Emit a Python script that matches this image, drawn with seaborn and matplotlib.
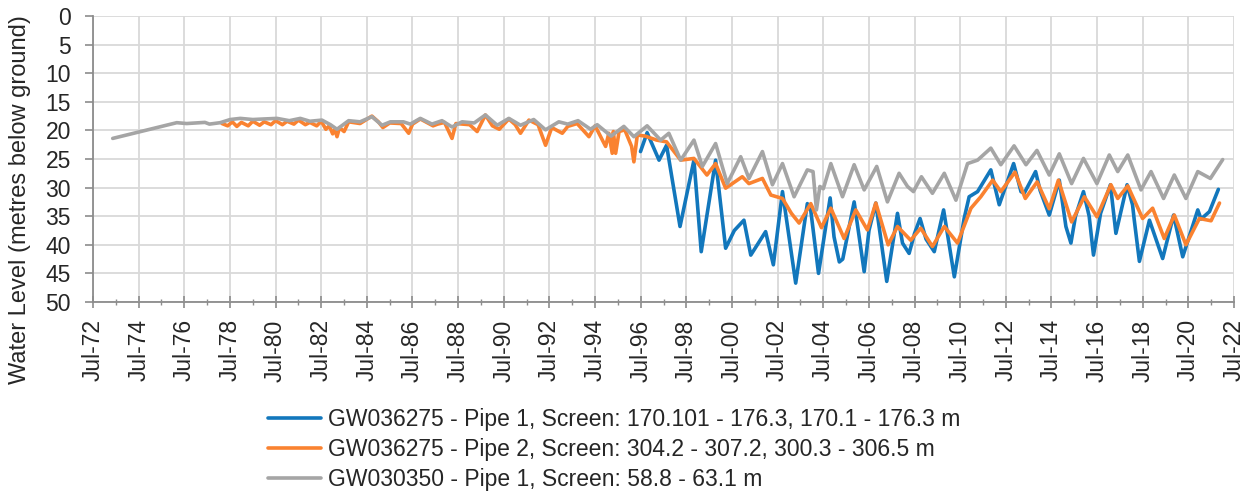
import numpy as np
import pandas as pd
import matplotlib
matplotlib.use("Agg")
import matplotlib.pyplot as plt
import matplotlib.dates as mdates
import seaborn as sns

# Series values (decimal year, metres below ground)
PIPE1_LABEL = "GW036275 - Pipe 1, Screen: 170.101 - 176.3, 170.1 - 176.3 m"
PIPE2_LABEL = "GW036275 - Pipe 2, Screen: 304.2 - 307.2, 300.3 - 306.5 m"
GW0303_LABEL = "GW030350 - Pipe 1, Screen: 58.8 - 63.1 m"

pipe1_years = [
    1996.49, 1996.78, 1997.30, 1997.63, 1998.22, 1998.83, 1999.15, 1999.78,
    2000.22, 2000.60, 2001.02, 2001.32, 2001.97, 2002.31, 2002.71, 2003.29,
    2003.80, 2003.95, 2004.29, 2004.80, 2004.97, 2005.20, 2005.35, 2005.85,
    2006.29, 2006.50, 2006.80, 2007.28, 2007.75, 2007.97, 2008.26, 2008.50,
    2008.74, 2009.00, 2009.36, 2009.77, 2010.24, 2010.67, 2010.89, 2011.26,
    2011.84, 2012.21, 2012.84, 2013.16, 2013.30, 2013.80, 2014.00, 2014.40,
    2014.84, 2015.13, 2015.35, 2015.55, 2015.90, 2016.15, 2016.34, 2016.65,
    2017.08, 2017.32, 2017.81, 2018.05, 2018.12, 2018.35, 2018.79, 2019.37,
    2019.85, 2020.25, 2020.91, 2021.05, 2021.42, 2021.81,
]
pipe1_levels = [
    23.7, 20.4, 25.2, 22.6, 36.8, 25.2, 41.2, 25.2,
    40.6, 37.5, 35.7, 41.8, 37.7, 43.5, 30.7, 46.7,
    32.8, 34.0, 45.0, 31.8, 38.6, 43.0, 42.5, 32.5,
    44.7, 37.5, 32.7, 46.4, 34.5, 39.7, 41.5, 38.0,
    35.4, 39.0, 41.2, 33.9, 45.6, 35.4, 31.6, 30.7,
    26.9, 33.0, 25.8, 30.7, 31.0, 27.2, 30.5, 34.8,
    28.7, 36.8, 39.7, 35.0, 30.7, 35.0, 41.8, 34.5,
    29.5, 38.0, 29.5, 33.0, 35.5, 42.9, 35.7, 42.4,
    34.8, 42.1, 33.9, 35.5, 34.2, 30.3,
]

pipe2_years = [
    1978.15, 1978.40, 1978.60, 1978.80, 1979.00, 1979.30, 1979.50, 1979.80,
    1980.00, 1980.30, 1980.50, 1980.80, 1981.00, 1981.30, 1981.50, 1981.80,
    1982.00, 1982.30, 1982.50, 1982.70, 1982.85, 1983.00, 1983.10, 1983.19,
    1983.30, 1983.50, 1983.70, 1984.20, 1984.72, 1985.00, 1985.20, 1985.50,
    1986.00, 1986.33, 1986.50, 1986.84, 1987.40, 1987.60, 1987.90, 1988.23,
    1988.40, 1989.00, 1989.33, 1989.69, 1990.00, 1990.30, 1990.72, 1991.00,
    1991.23, 1991.60, 1992.00, 1992.33, 1992.60, 1993.06, 1993.30, 1993.71,
    1994.23, 1994.50, 1994.96, 1995.10, 1995.25, 1995.30, 1995.40, 1995.55,
    1995.80, 1996.10, 1996.20, 1996.35, 1996.70, 1997.20, 1997.63, 1998.25,
    1998.83, 1999.40, 1999.78, 2000.22, 2000.95, 2001.24, 2001.83, 2002.20,
    2002.71, 2003.10, 2003.44, 2003.95, 2004.42, 2004.83, 2005.41, 2005.92,
    2006.43, 2006.80, 2007.34, 2007.75, 2008.33, 2008.77, 2009.28, 2009.80,
    2010.38, 2010.97, 2011.40, 2011.92, 2012.28, 2012.90, 2013.35, 2013.87,
    2014.40, 2014.80, 2015.38, 2015.94, 2016.49, 2017.10, 2017.40, 2017.84,
    2018.49, 2018.93, 2019.44, 2019.88, 2020.39, 2020.98, 2021.49, 2021.86,
]
pipe2_levels = [
    18.8, 19.2, 18.5, 19.3, 18.6, 19.2, 18.4, 19.1,
    18.5, 19.0, 18.3, 19.0, 18.4, 18.9, 18.2, 19.0,
    18.6, 19.2, 18.4, 19.8, 19.2, 20.6, 19.8, 21.1,
    19.5, 20.2, 18.5, 18.8, 17.5, 18.5, 19.5, 18.7,
    18.8, 20.5, 18.9, 18.0, 19.2, 18.9, 18.6, 21.4,
    18.8, 19.0, 20.2, 17.3, 19.2, 19.8, 18.0, 19.0,
    20.5, 18.2, 19.0, 22.6, 19.5, 20.5, 19.3, 18.8,
    21.1, 19.2, 22.8, 20.5, 24.0, 20.2, 24.0, 20.2,
    19.9, 22.8, 25.5, 20.8, 21.0, 21.7, 22.0, 25.2,
    24.9, 27.8, 25.8, 30.1, 28.1, 29.3, 28.4, 31.3,
    31.9, 34.5, 36.2, 32.8, 37.0, 33.6, 38.9, 33.9,
    37.4, 32.7, 40.0, 36.8, 39.2, 37.1, 40.3, 36.8,
    39.7, 33.6, 31.6, 28.7, 30.7, 27.3, 31.9, 29.0,
    33.7, 28.7, 36.0, 31.6, 35.1, 29.5, 31.9, 29.7,
    35.4, 33.6, 38.9, 34.8, 40.0, 35.4, 35.8, 32.7,
]

gw0303_years = [
    1973.36, 1976.17, 1976.60, 1977.00, 1977.40, 1977.60, 1978.07, 1978.51,
    1978.95, 1979.50, 1980.00, 1980.56, 1981.10, 1981.58, 1982.00, 1982.53,
    1982.90, 1983.19, 1983.70, 1984.20, 1984.72, 1985.16, 1985.53, 1986.10,
    1986.40, 1986.84, 1987.35, 1987.79, 1988.23, 1988.67, 1989.20, 1989.69,
    1990.21, 1990.72, 1991.23, 1991.81, 1992.33, 1992.91, 1993.30, 1993.75,
    1994.30, 1994.59, 1995.20, 1995.76, 1996.20, 1996.78, 1997.37, 1997.73,
    1998.25, 1998.83, 1999.20, 1999.78, 2000.29, 2000.88, 2001.24, 2001.83,
    2002.27, 2002.71, 2003.22, 2003.80, 2004.05, 2004.20, 2004.35, 2004.50,
    2004.83, 2005.34, 2005.85, 2006.29, 2006.84, 2007.31, 2007.82, 2008.19,
    2008.45, 2008.80, 2009.28, 2009.80, 2010.31, 2010.82, 2011.26, 2011.84,
    2012.28, 2012.86, 2013.38, 2013.86, 2014.40, 2014.84, 2015.38, 2015.90,
    2016.49, 2017.03, 2017.40, 2017.84, 2018.42, 2018.86, 2019.41, 2019.88,
    2020.39, 2020.91, 2021.46, 2022.00,
]
gw0303_levels = [
    21.4, 18.65, 18.8, 18.7, 18.6, 18.9, 18.65, 18.1,
    17.9, 18.1, 18.0, 17.9, 18.3, 17.9, 18.4, 18.2,
    19.0, 19.8, 18.3, 18.5, 17.6, 19.1, 18.5, 18.5,
    18.9, 17.9, 18.9, 18.3, 19.4, 18.5, 18.7, 17.3,
    19.1, 17.9, 19.1, 18.1, 19.9, 18.5, 18.9, 18.3,
    19.8, 19.0, 21.0, 19.3, 21.1, 19.2, 21.7, 20.5,
    25.2, 21.7, 26.3, 22.3, 29.3, 24.6, 28.4, 23.7,
    29.5, 25.8, 31.6, 26.9, 27.2, 33.9, 29.8, 30.2,
    25.8, 31.6, 26.0, 30.4, 26.3, 32.5, 27.5, 29.8,
    30.7, 28.1, 31.0, 27.5, 32.2, 25.8, 25.2, 23.1,
    26.0, 22.7, 26.0, 23.5, 27.8, 24.1, 29.3, 24.9,
    29.3, 24.3, 27.2, 24.3, 30.4, 27.2, 31.9, 27.8,
    31.9, 27.2, 28.4, 25.1,
]

COLORS = {PIPE1_LABEL: "#1277BC", PIPE2_LABEL: "#FA8230", GW0303_LABEL: "#A5A5A5"}


def to_dates(years):
    return [pd.Timestamp(int(y), 1, 1) + pd.Timedelta(days=(y % 1) * 365.25) for y in years]


frames = []
for label, yrs, lv in [
    (PIPE1_LABEL, pipe1_years, pipe1_levels),
    (PIPE2_LABEL, pipe2_years, pipe2_levels),
    (GW0303_LABEL, gw0303_years, gw0303_levels),
]:
    frames.append(pd.DataFrame({"Date": to_dates(yrs), "Level": lv, "Bore": label}))
df = pd.concat(frames, ignore_index=True)

sns.set_theme(style="white")
plt.rcParams["font.family"] = ["Liberation Sans", "DejaVu Sans"]
FS = 16.5

fig = plt.figure(figsize=(12.58, 4.95), dpi=100)
ax = fig.add_axes([93 / 1258, 1 - 302 / 495, 1141 / 1258, 286 / 495])

sns.lineplot(
    data=df,
    x="Date",
    y="Level",
    hue="Bore",
    palette=COLORS,
    estimator=None,
    sort=False,
    linewidth=2.6,
    ax=ax,
)
for line in ax.get_lines():
    line.set_solid_joinstyle("round")

ax.set_xlim(pd.Timestamp("1972-07-01"), pd.Timestamp("2022-07-01"))
ax.set_ylim(50, 0)
ax.set_yticks(np.arange(0, 51, 5))

ax.xaxis.set_major_locator(mdates.YearLocator(base=2, month=7, day=1))
ax.xaxis.set_minor_locator(mdates.YearLocator(base=1, month=7, day=1))
ax.xaxis.set_major_formatter(mdates.DateFormatter("%b-%y"))

ax.grid(True, which="major", color="#d9d9d9", linewidth=1.3)
ax.set_axisbelow(True)
for side in ["top", "right"]:
    ax.spines[side].set_visible(False)
for side in ["left", "bottom"]:
    ax.spines[side].set_color("#8c8c8c")
    ax.spines[side].set_linewidth(1.3)

ax.tick_params(axis="x", which="major", direction="inout", length=9, width=1.2,
               color="#8c8c8c", labelsize=FS, labelrotation=90, pad=8, bottom=True)
ax.tick_params(axis="x", which="minor", direction="inout", length=5, width=1.0,
               color="#8c8c8c", bottom=True)
ax.tick_params(axis="y", which="major", direction="out", length=6, width=1.2,
               color="#8c8c8c", labelsize=FS, pad=10, left=True)

ax.set_xlabel("")
ax.set_ylabel("Water Level (metres below ground)", fontsize=17)
# label sits lower than the axes centre, as in the reference
ax.yaxis.set_label_coords((31 - 93) / 1141, (302 - 200) / 286)

handles, labels = ax.get_legend_handles_labels()
ax.legend_.remove()
leg = fig.legend(
    handles,
    labels,
    loc="upper left",
    bbox_to_anchor=(268 / 1258, 1 - 408 / 495),
    frameon=False,
    fontsize=FS,
    handlelength=2.3,
    handletextpad=0.3,
    labelspacing=0.3,
    borderpad=0,
    borderaxespad=0,
)
for line in leg.get_lines():
    line.set_linewidth(2.6)

fig.savefig("out.png", dpi=100)
